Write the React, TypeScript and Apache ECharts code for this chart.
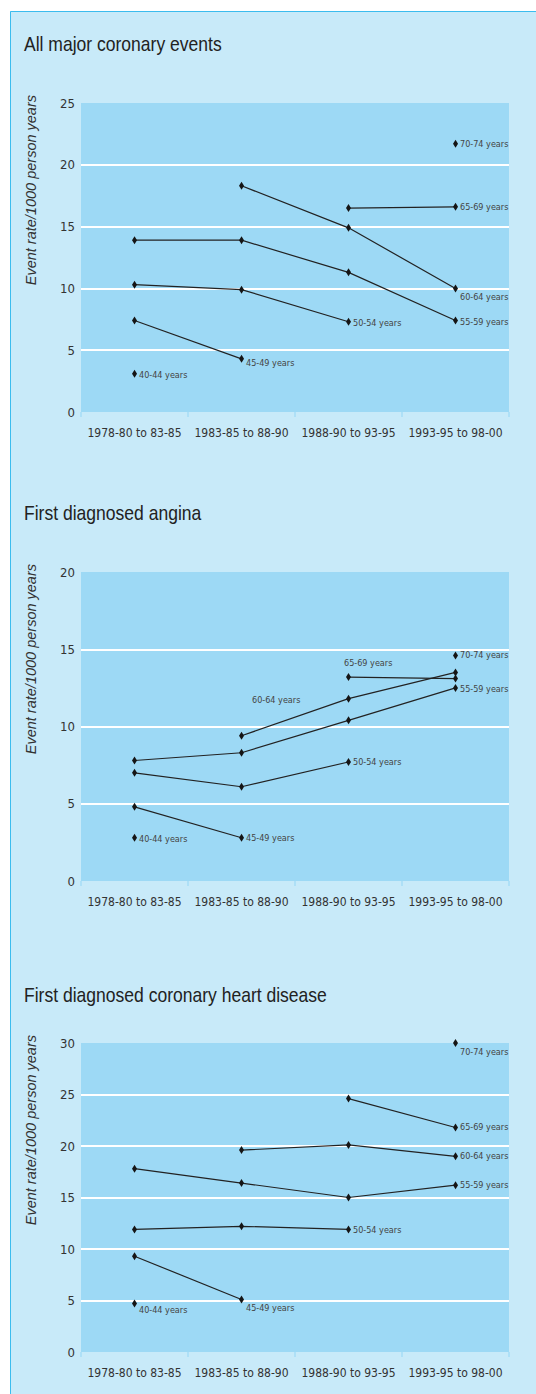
import React, { useEffect, useRef } from 'react';
import * as echarts from 'echarts';

const categories = ['1978-80 to 83-85', '1983-85 to 88-90', '1988-90 to 93-95', '1993-95 to 98-00'];
const ageGroups = ['40-44 years', '45-49 years', '50-54 years', '55-59 years', '60-64 years', '65-69 years', '70-74 years'];
const panelTitles = ['All major coronary events', 'First diagnosed angina', 'First diagnosed coronary heart disease'];
const yAxisName = 'Event rate/1000 person years';
const yMax = [25, 20, 30];
const yInterval = 5;

// rows follow ageGroups, columns follow categories
const majorRates = [
  [3.1, null, null, null],
  [7.4, 4.3, null, null],
  [10.3, 9.9, 7.3, null],
  [13.9, 13.9, 11.3, 7.4],
  [null, 18.3, 14.9, 10.0],
  [null, null, 16.5, 16.6],
  [null, null, null, 21.7],
];
const anginaRates = [
  [2.8, null, null, null],
  [4.8, 2.8, null, null],
  [7.0, 6.1, 7.7, null],
  [7.8, 8.3, 10.4, 12.5],
  [null, 9.4, 11.8, 13.5],
  [null, null, 13.2, 13.1],
  [null, null, null, 14.6],
];
const chdRates = [
  [4.7, null, null, null],
  [9.3, 5.1, null, null],
  [11.9, 12.2, 11.9, null],
  [17.8, 16.4, 15.0, 16.2],
  [null, 19.6, 20.1, 19.0],
  [null, null, 24.6, 21.8],
  [null, null, null, 30.0],
];
const panelRates = [majorRates, anginaRates, chdRates];

// label placement per age group: [point index, offsetX, offsetY]
const labelPlacement = [
  [[0, 0, 1], [1, 0, 4], [2, 0, 1], [3, 0, 1], [3, 0, 9], [3, 0, 0], [3, 0, 0]],
  [[0, 0, 1], [1, 0, 0], [2, 0, 0], [3, 0, 1], [1, 6, -36], [2, -9, -14], [3, 0, 0]],
  [[0, 0, 6], [1, 0, 9], [2, 0, 1], [3, 0, 0], [3, 0, 0], [3, 0, 0], [3, 0, 9]],
];

const gridTops = [103, 572, 1043];
const gridLeft = 81;
const gridWidth = 428;
const gridHeight = 309;

const FONT_NARROW = "'DejaVu Sans Condensed', 'Liberation Sans Narrow', 'Arial Narrow', sans-serif";
const FONT_REG = "'Liberation Sans', Arial, Helvetica, sans-serif";

const OUTER_BG = '#c8eaf9';
const PLOT_BG = '#9dd9f5';
const BORDER = '#3bbcee';

export default function App() {
  const ref = useRef<HTMLDivElement>(null);

  useEffect(() => {
    document.body.style.margin = '0';
    if (!ref.current) return;
    const chart = echarts.init(ref.current, null, { renderer: 'svg' });

    const grid: any[] = [];
    const xAxis: any[] = [];
    const yAxis: any[] = [];
    const series: any[] = [];
    const graphic: any[] = [
      { type: 'rect', shape: { x: 0, y: 0, width: 536, height: 11 }, style: { fill: '#ffffff' }, silent: true },
      { type: 'rect', shape: { x: 0, y: 0, width: 10, height: 1394 }, style: { fill: '#ffffff' }, silent: true },
      { type: 'line', shape: { x1: 10.5, y1: 11.5, x2: 536, y2: 11.5 }, style: { stroke: BORDER, lineWidth: 1 }, silent: true },
      { type: 'line', shape: { x1: 10.5, y1: 11.5, x2: 10.5, y2: 1394 }, style: { stroke: BORDER, lineWidth: 1 }, silent: true },
    ];

    const titleY = [43, 512, 994];

    panelRates.forEach((rates, p) => {
      const top = gridTops[p];
      grid.push({
        left: gridLeft, top, width: gridWidth, height: gridHeight,
        show: true, backgroundColor: PLOT_BG, borderWidth: 0, containLabel: false,
      });
      xAxis.push({
        type: 'category', gridIndex: p, data: categories, boundaryGap: true,
        axisLine: { show: false },
        axisTick: { show: true, length: 5, interval: 0, lineStyle: { color: '#aee0f7', width: 2 } },
        axisLabel: { fontSize: 12, color: '#333', fontFamily: FONT_NARROW, margin: 15, interval: 0 },
        splitLine: { show: false },
      });
      const nTicks = yMax[p] / yInterval + 1;
      const splitColors = Array.from({ length: nTicks }, (_, i) => (i === 0 || i === nTicks - 1 ? 'rgba(0,0,0,0)' : '#ffffff'));
      yAxis.push({
        type: 'value', gridIndex: p, min: 0, max: yMax[p], interval: yInterval,
        axisLine: { show: false }, axisTick: { show: false },
        axisLabel: { fontSize: 13, color: '#333', fontFamily: FONT_NARROW, margin: 6 },
        splitLine: { show: true, lineStyle: { color: splitColors, width: 2 } },
      });

      rates.forEach((row, g) => {
        const [li, ox, oy] = labelPlacement[p][g];
        series.push({
          type: 'line', name: ageGroups[g], xAxisIndex: p, yAxisIndex: p,
          symbol: 'diamond', symbolSize: [5, 8], showAllSymbol: true,
          connectNulls: false, clip: false,
          lineStyle: { color: '#222', width: 1.2 },
          itemStyle: { color: '#151515' },
          emphasis: { disabled: true },
          data: row.map((v, i) =>
            i === li
              ? {
                  value: v,
                  label: {
                    show: true, position: 'right', distance: 2, offset: [ox, oy],
                    formatter: ageGroups[g], fontSize: 9, color: '#444', fontFamily: FONT_NARROW,
                  },
                }
              : v
          ),
        });
      });

      graphic.push({
        type: 'text', x: 24, y: titleY[p], scaleX: 0.835,
        style: { text: panelTitles[p], fontSize: 21, fontFamily: FONT_REG, fill: '#222', textAlign: 'left', textVerticalAlign: 'middle' },
        silent: true,
      });
      graphic.push({
        type: 'text', x: 31, y: top - 8, rotation: Math.PI / 2,
        style: { text: yAxisName, fontSize: 14.5, fontStyle: 'italic', fontFamily: FONT_REG, fill: '#333', textAlign: 'right', textVerticalAlign: 'middle' },
        silent: true,
      });
    });

    chart.setOption({
      animation: false,
      backgroundColor: OUTER_BG,
      grid, xAxis, yAxis, series, graphic,
      tooltip: { show: false },
    });

    return () => chart.dispose();
  }, []);

  return <div ref={ref} style={{ width: 536, height: 1394 }} />;
}
